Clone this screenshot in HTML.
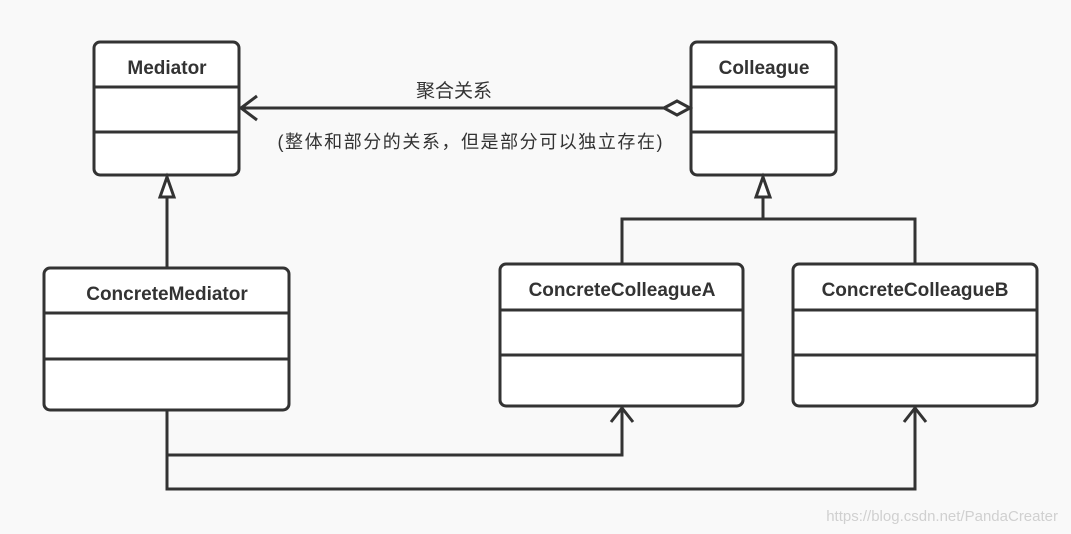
<!DOCTYPE html>
<html><head><meta charset="utf-8"><style>
html,body{margin:0;padding:0;background:#f9f9f9;}
svg{display:block}
text{font-family:"Liberation Sans","Noto Sans CJK SC",sans-serif;fill:#333}
.t{font-weight:bold;font-size:19px}
</style></head><body>
<svg width="1071" height="534" viewBox="0 0 1071 534" xmlns="http://www.w3.org/2000/svg">
<g fill="#fff" stroke="#333" stroke-width="3">
<rect x="94" y="42" width="145" height="133" rx="6"/>
<line x1="94" y1="87" x2="239" y2="87"/><line x1="94" y1="132" x2="239" y2="132"/>
<rect x="691" y="42" width="145" height="133" rx="6"/>
<line x1="691" y1="87" x2="836" y2="87"/><line x1="691" y1="132" x2="836" y2="132"/>
<rect x="44" y="268" width="245" height="142" rx="6"/>
<line x1="44" y1="313" x2="289" y2="313"/><line x1="44" y1="359" x2="289" y2="359"/>
<rect x="500" y="264" width="243" height="142" rx="6"/>
<line x1="500" y1="310" x2="743" y2="310"/><line x1="500" y1="355" x2="743" y2="355"/>
<rect x="793" y="264" width="244" height="142" rx="6"/>
<line x1="793" y1="310" x2="1037" y2="310"/><line x1="793" y1="355" x2="1037" y2="355"/>
</g>
<g fill="none" stroke="#333" stroke-width="3">
<line x1="241" y1="108" x2="664" y2="108"/>
<polyline points="257,96 241,108 257,120"/>
<polygon points="664,108 677,101 690,108 677,115" fill="#fff"/>
<line x1="167" y1="268" x2="167" y2="197"/>
<polygon points="167,177 160,197 174,197" fill="#fff"/>
<line x1="763" y1="197" x2="763" y2="219"/>
<polygon points="763,177 756,197 770,197" fill="#fff"/>
<polyline points="622,264 622,219 915,219 915,264"/>
<polyline points="167,410 167,489 915,489 915,408"/>
<polyline points="167,455 622,455 622,408"/>
<polyline points="611,422 622,408 633,422"/>
<polyline points="904,422 915,408 926,422"/>
</g>
<text class="t" x="167" y="74" text-anchor="middle">Mediator</text>
<text class="t" x="764" y="74" text-anchor="middle">Colleague</text>
<text class="t" x="167" y="300" text-anchor="middle">ConcreteMediator</text>
<text class="t" x="622" y="296" text-anchor="middle">ConcreteColleagueA</text>
<text class="t" x="915" y="296" text-anchor="middle">ConcreteColleagueB</text>
<text x="454" y="97" font-size="19" text-anchor="middle">聚合关系</text>
<text x="470" y="148" font-size="18" text-anchor="middle" textLength="385">(整体和部分的关系，但是部分可以独立存在)</text>
<text x="1058" y="521" font-size="15" text-anchor="end" style="fill:#d0d0d0">https://blog.csdn.net/PandaCreater</text>
</svg>
</body></html>
